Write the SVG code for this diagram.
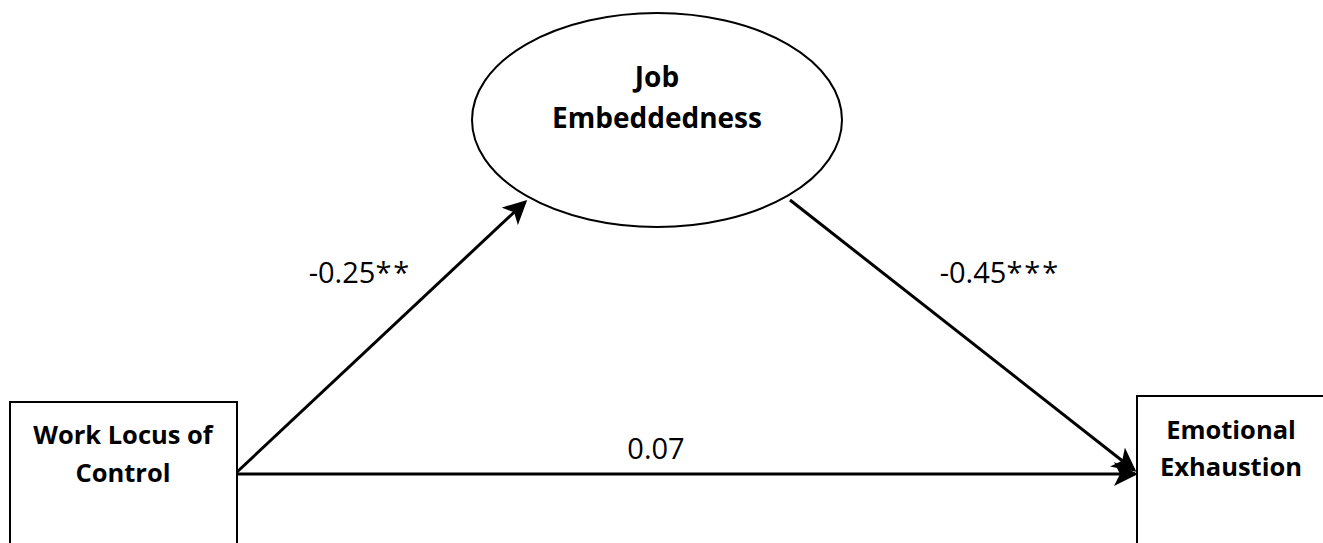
<svg xmlns="http://www.w3.org/2000/svg" width="1323" height="543" viewBox="0 0 1323 543">
<style>
.box{fill:#fff;stroke:#000;stroke-width:2}
.t{font-family:"Open Sans","Liberation Sans",sans-serif;font-weight:bold;font-size:25.5px;fill:#000;text-anchor:middle}
.e{font-size:28px}
.l{font-family:"Open Sans","Liberation Sans",sans-serif;font-size:29px;fill:#000;text-anchor:middle}
.s{letter-spacing:2px}
.c{stroke:#000;stroke-width:3;fill:none;marker-end:url(#ah)}
</style>
<defs>
<marker id="ah" markerWidth="8" markerHeight="8" refX="7" refY="4" orient="auto" markerUnits="strokeWidth">
<path d="M0,0 L8,4 L0,8 L2,4 Z" fill="#000"/>
</marker>
</defs>
<rect width="1323" height="543" fill="#fff"/>
<g id="connectors">
<line class="c" x1="237" y1="472" x2="525" y2="202"/>
<line class="c" x1="790" y1="200" x2="1134" y2="470"/>
<line class="c" x1="237" y1="474" x2="1135" y2="474"/>
<text class="l" x="360" y="283">-0.25<tspan class="s">**</tspan></text>
<text class="l" x="1000" y="283">-0.45<tspan class="s">***</tspan></text>
<text class="l" x="656" y="459">0.07</text>
</g>
<g id="job-embeddedness">
<ellipse class="box" cx="657" cy="120" rx="185" ry="107"/>
<text class="t e" x="657" y="87">Job</text>
<text class="t e" x="657" y="128">Embeddedness</text>
</g>
<g id="work-locus">
<rect class="box" x="10" y="402" width="227" height="160"/>
<text class="t" x="123" y="444">Work Locus of</text>
<text class="t" x="123" y="482">Control</text>
</g>
<g id="emotional-exhaustion">
<rect class="box" x="1137" y="396" width="200" height="160"/>
<text class="t" x="1231" y="439">Emotional</text>
<text class="t" x="1231" y="476">Exhaustion</text>
</g>
</svg>
